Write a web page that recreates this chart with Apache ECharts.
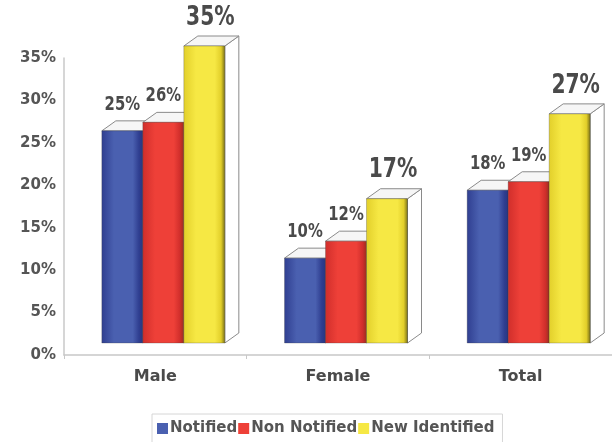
<!DOCTYPE html>
<html>
<head>
<meta charset="utf-8">
<script src="https://cdn.jsdelivr.net/npm/echarts@6/dist/echarts.min.js"></script>
<style>
  html, body { margin: 0; padding: 0; background: #fff; }
  #chart { width: 612px; height: 442px; }
</style>
</head>
<body>
<div id="chart"></div>
<script>
// datos
const categories = ['Male', 'Female', 'Total'];
const seriesNames = ['Notified', 'Non Notified', 'New Identified'];
const notified = [25, 10, 18];
const nonNotified = [26, 12, 19];
const newIdentified = [35, 17, 27];
const yTicks = [0, 5, 10, 15, 20, 25, 30, 35];

// colores de las caras frontales (borde izq, centro, borde der)
const faceColors = [
  ['#2f3e90', '#4a60b0', '#28357e'],
  ['#d02e2b', '#ee4038', '#94301f'],
  ['#e2cf2a', '#f6e844', '#736a16']
];

const container = document.getElementById('chart');
const miGrafico = echarts.init(container);

function gradient(c) {
  return new echarts.graphic.LinearGradient(0, 0, 1, 0, [
    { offset: 0, color: c[0] },
    { offset: 0.3, color: c[1] },
    { offset: 0.75, color: c[1] },
    { offset: 0.9, color: c[0] },
    { offset: 1, color: c[2] }
  ]);
}

// barra con efecto 3D: cara frontal, tapa y lateral
function renderBar(params, api) {
  const i = params.seriesIndex;
  const cat = api.value(0);
  const v = api.value(1);
  const p0 = api.coord([cat, 0]);
  const p1 = api.coord([cat, v]);
  const bw = 41, lift = 12, dx = 14, dy = 10;
  const x0 = p0[0] + 8 - 1.5 * bw + i * bw;
  const yb = p0[1] - lift;
  const yt = p1[1] - lift;
  const big = i === 2;
  return {
    type: 'group',
    children: [
      {
        type: 'polygon',
        shape: { points: [[x0 + bw, yt], [x0 + bw + dx, yt - dy], [x0 + bw + dx, yb - dy], [x0 + bw, yb]] },
        style: { fill: '#ffffff', stroke: '#8a8a8a', lineWidth: 1 }
      },
      {
        type: 'polygon',
        shape: { points: [[x0, yt], [x0 + dx, yt - dy], [x0 + bw + dx, yt - dy], [x0 + bw, yt]] },
        style: { fill: '#f6f6f6', stroke: '#8a8a8a', lineWidth: 1 }
      },
      {
        type: 'rect',
        shape: { x: x0, y: yt, width: bw, height: yb - yt },
        style: { fill: gradient(faceColors[i]), stroke: 'rgba(60,60,60,0.35)', lineWidth: 0.8 }
      },
      {
        type: 'text',
        x: x0 + bw / 2 + (big ? 6 : 0),
        y: yt - (big ? 28 : 26),
        scaleX: 0.78,
        style: {
          x: 0,
          y: 0,
          text: v + '%',
          align: 'center',
          verticalAlign: 'middle',
          fill: '#4a4a4a',
          font: (big ? 'bold 26px' : 'bold 19px') + ' "DejaVu Sans", sans-serif'
        }
      }
    ]
  };
}

const valores = [notified, nonNotified, newIdentified];

const opciones = {
  animation: false,
  grid: { left: 64, right: -10, top: 58, bottom: 87 },
  legend: {
    bottom: -6,
    left: 152,
    itemGap: 1,
    itemWidth: 11,
    itemHeight: 11,
    icon: 'rect',
    padding: [7, 8, 12, 5],
    borderColor: '#d6d6d6',
    borderWidth: 1,
    textStyle: { fontFamily: 'DejaVu Sans', fontSize: 15, fontWeight: 'bold', color: '#555', padding: [0, 0, 0, -3] },
    data: seriesNames
  },
  xAxis: {
    type: 'category',
    data: categories,
    axisLine: { lineStyle: { color: '#c8c8c8', width: 1.5 } },
    axisTick: { show: true, length: 4, lineStyle: { color: '#c8c8c8' } },
    axisLabel: { margin: 14, fontFamily: 'DejaVu Sans', fontSize: 16, color: '#4a4a4a', fontWeight: 'bold' }
  },
  yAxis: {
    type: 'value',
    min: yTicks[0],
    max: yTicks[yTicks.length - 1],
    interval: 5,
    splitLine: { show: false },
    axisLine: { show: true, lineStyle: { color: '#c8c8c8', width: 1.5 } },
    axisTick: { show: false },
    axisLabel: { margin: 8, formatter: '{value}%', fontFamily: 'DejaVu Sans', fontSize: 15, color: '#555', fontWeight: 'bold' }
  },
  series: valores.map((vals, i) => ({
    name: seriesNames[i],
    type: 'custom',
    renderItem: renderBar,
    itemStyle: { color: faceColors[i][1] },
    data: vals.map((v, k) => [k, v])
  }))
};

miGrafico.setOption(opciones);
</script>
</body>
</html>
